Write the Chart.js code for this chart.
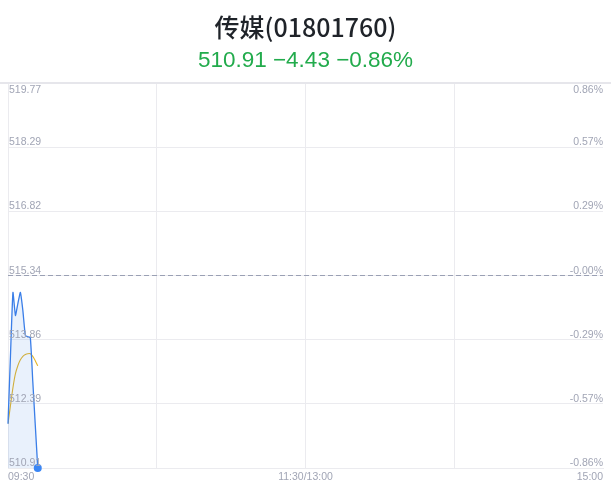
<!DOCTYPE html>
<html>
<head>
<meta charset="utf-8">
<script src="https://cdn.jsdelivr.net/npm/chart.js@4"></script>
<style>
  html, body { margin: 0; padding: 0; background: #fff; }
  #wrap { position: relative; width: 611px; height: 492px; }
  #title { position: absolute; left: 0; width: 611px; top: 9px; text-align: center;
    font: 500 25px "Noto Sans CJK SC", "Noto Sans", sans-serif; color: #1f2329; line-height: 34px; }
  #sub { position: absolute; left: 0; width: 611px; top: 46px; text-align: center;
    font: 22.5px "Liberation Sans", Arial, sans-serif; color: #22ab4c; line-height: 28px; }
  canvas { position: absolute; left: 0; top: 0; }
</style>
</head>
<body>
<div id="wrap">
  <canvas id="c" width="611" height="492"></canvas>
  <div id="title">传媒(01801760)</div>
  <div id="sub">510.91 −4.43 −0.86%</div>
</div>
<script>
// ---- data ----
const times = ['09:30','09:31','09:32','09:33','09:34','09:35','09:36','09:37','09:38','09:39','09:40','09:41','09:42'];
const priceValues = [511.93, 513.50, 514.95, 514.42, 514.70, 514.95, 514.53, 513.96, 513.93, 513.91, 512.90, 511.90, 510.91];
const avgValues   = [511.93, 512.35, 512.76, 513.08, 513.27, 513.40, 513.48, 513.52, 513.54, 513.54, 513.48, 513.38, 513.26];
const prevClose = 515.34;
const yTickValues = [519.77, 518.29, 516.82, 515.34, 513.86, 512.39, 510.91];
const yTickLabels = ['519.77','518.29','516.82','515.34','513.86','512.39','510.91'];
const pctTickLabels = ['0.86%','0.57%','0.29%','-0.00%','-0.29%','-0.57%','-0.86%'];
const xTickPositions = [0, 120, 240];
const xTickLabels = ['09:30','11:30/13:00','15:00'];
const totalMinutes = 240;

const pricePts = priceValues.map((v, i) => ({x: i, y: v}));
const avgPts = avgValues.map((v, i) => ({x: i, y: v}));
const prevPts = [{x: 0, y: prevClose}, {x: totalMinutes, y: prevClose}];

const labelFont = '10.5px "Liberation Sans", Arial, sans-serif';
const labelColor = '#a1a5b5';
const gridColor = '#ebebef';

const labelPlugin = {
  id: 'labels',
  afterDraw(chart) {
    const ctx = chart.ctx, ca = chart.chartArea;
    const ys = chart.scales.y, xs = chart.scales.x;
    ctx.save();
    ctx.strokeStyle = '#e6e6eb';
    ctx.lineWidth = 2;
    ctx.beginPath();
    ctx.moveTo(0, ca.top); ctx.lineTo(chart.width, ca.top);
    ctx.stroke();
    ctx.font = labelFont;
    ctx.fillStyle = labelColor;
    yTickValues.forEach((v, i) => {
      const py = ys.getPixelForValue(v);
      let yText;
      ctx.textBaseline = 'alphabetic';
      if (i === 0) { yText = py + 10; } else { yText = py - 2; }
      ctx.textAlign = 'left';
      ctx.fillText(yTickLabels[i], ca.left + 1, yText);
      ctx.textAlign = 'right';
      ctx.fillText(pctTickLabels[i], ca.right, yText);
    });
    ctx.textBaseline = 'alphabetic';
    xTickPositions.forEach((p, i) => {
      const px = xs.getPixelForValue(p);
      ctx.textAlign = i === 0 ? 'left' : (i === xTickPositions.length - 1 ? 'right' : 'center');
      ctx.fillText(xTickLabels[i], px, ca.bottom + 12);
    });
    ctx.restore();
  }
};

new Chart(document.getElementById('c'), {
  type: 'line',
  data: {
    datasets: [
      {
        data: pricePts,
        borderColor: '#3a7ee8',
        borderWidth: 1.3,
        backgroundColor: 'rgba(58,126,232,0.11)',
        fill: 'start',
        tension: 0.15,
        clip: false,
        pointRadius: ctx => ctx.dataIndex === priceValues.length - 1 ? 4 : 0,
        pointBackgroundColor: '#3a86f5',
        pointBorderWidth: 0,
        order: 1
      },
      {
        data: avgPts,
        borderColor: '#e3b52a',
        borderWidth: 1.1,
        fill: false,
        tension: 0.3,
        pointRadius: 0,
        order: 2
      },
      {
        data: prevPts,
        borderColor: '#9aa0b4',
        borderWidth: 1,
        borderDash: [5, 3],
        fill: false,
        pointRadius: 0,
        order: 3
      }
    ]
  },
  options: {
    responsive: false,
    animation: false,
    layout: { padding: { left: 8, right: 8, top: 83, bottom: 24 } },
    plugins: { legend: { display: false }, tooltip: { enabled: false } },
    scales: {
      x: {
        type: 'linear', min: 0, max: totalMinutes,
        afterBuildTicks: s => { s.ticks = [0, 60, 120, 180, 240].map(v => ({value: v})); },
        ticks: { display: false },
        grid: {
          color: c => (c.tick && c.tick.value === totalMinutes) ? 'rgba(0,0,0,0)' : gridColor,
          drawTicks: false, lineWidth: 1
        },
        border: { display: true, color: gridColor }
      },
      y: {
        type: 'linear', min: 510.91, max: 519.77,
        afterBuildTicks: s => { s.ticks = yTickValues.map(v => ({value: v})); },
        ticks: { display: false },
        grid: { color: gridColor, drawTicks: false },
        border: { display: true, color: gridColor }
      }
    }
  },
  plugins: [labelPlugin]
});
</script>
</body>
</html>
